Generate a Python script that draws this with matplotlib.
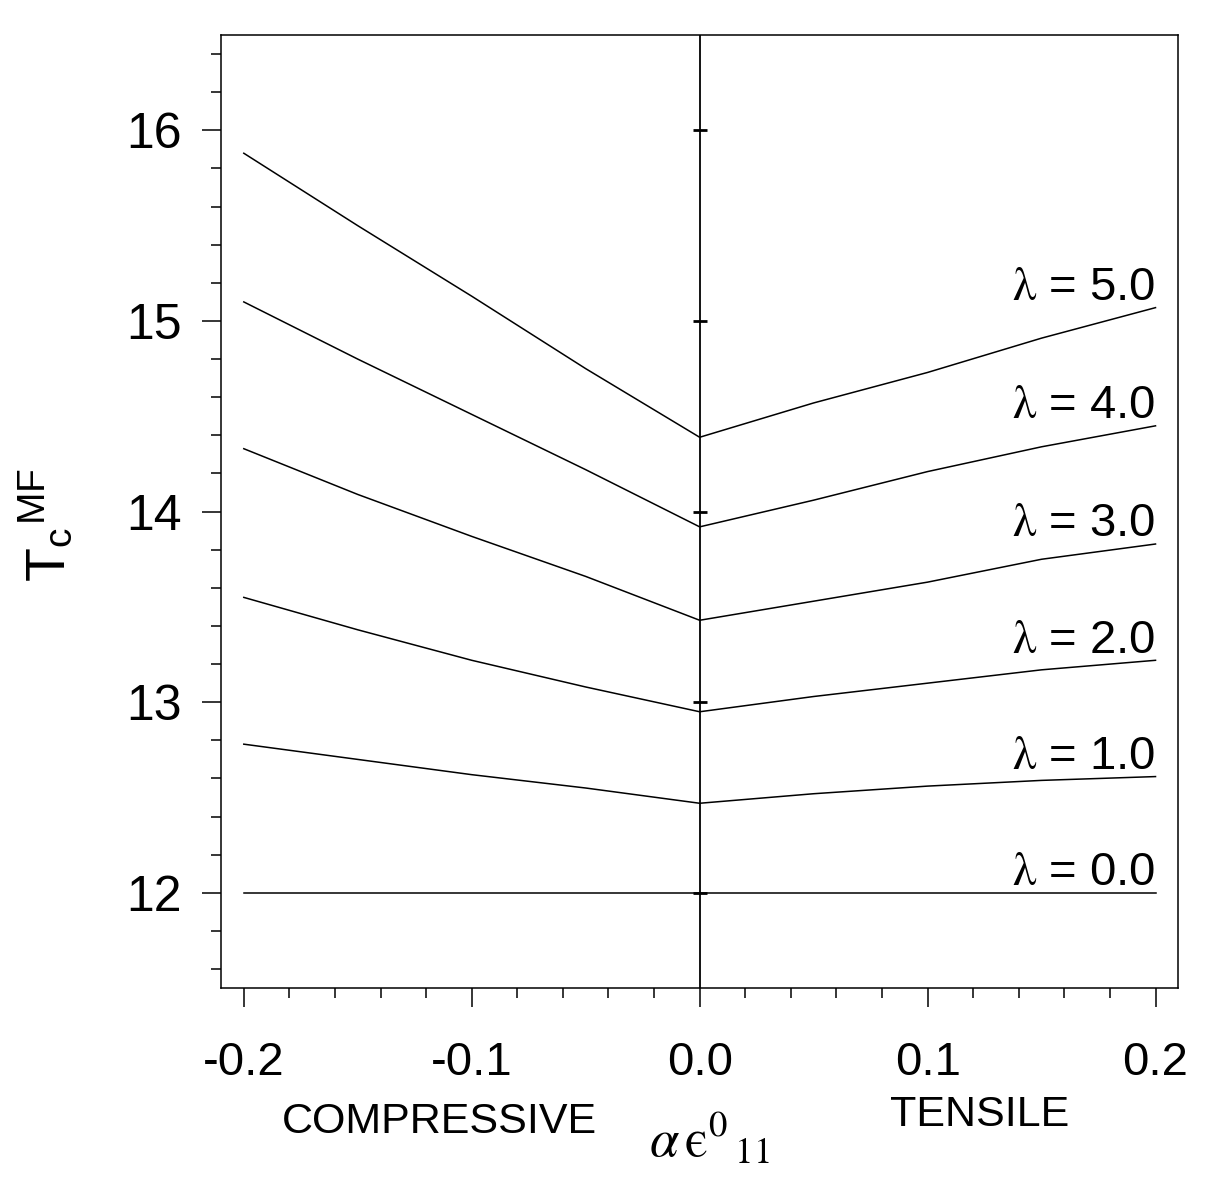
import matplotlib
matplotlib.use('Agg')
import matplotlib.pyplot as plt
from matplotlib.ticker import MultipleLocator

plt.rcParams['font.family'] = 'Liberation Sans'
plt.rcParams['mathtext.fontset'] = 'stix'

# strain values (alpha * eps0_11) where the curves were read
strain = [-0.2, -0.15, -0.1, -0.05, 0.0, 0.05, 0.1, 0.15, 0.2]

# mean-field Tc for each coupling lambda
tc_lam0 = [12.00, 12.00, 12.00, 12.00, 12.00, 12.00, 12.00, 12.00, 12.00]
tc_lam1 = [12.78, 12.70, 12.62, 12.55, 12.47, 12.52, 12.56, 12.59, 12.61]
tc_lam2 = [13.55, 13.38, 13.22, 13.08, 12.95, 13.03, 13.10, 13.17, 13.22]
tc_lam3 = [14.33, 14.09, 13.87, 13.66, 13.43, 13.53, 13.63, 13.75, 13.83]
tc_lam4 = [15.10, 14.80, 14.51, 14.22, 13.92, 14.06, 14.21, 14.34, 14.45]
tc_lam5 = [15.88, 15.50, 15.13, 14.75, 14.39, 14.57, 14.73, 14.91, 15.07]

curves = [tc_lam0, tc_lam1, tc_lam2, tc_lam3, tc_lam4, tc_lam5]
lam_labels = ['0.0', '1.0', '2.0', '3.0', '4.0', '5.0']

# small cross marks on the zero-strain line
cross_y = [12, 13, 14, 15, 16]

fig = plt.figure(figsize=(12.11, 11.92), dpi=100)
ax = fig.add_axes([0.1825, 0.171, 0.7905, 0.7996])

for tc, lab in zip(curves, lam_labels):
    ax.plot(strain, tc, color='black', lw=1.1)
    ax.text(strain[-1], tc[-1] + 0.04, r'$\mathrm{\lambda}$ = ' + lab,
            ha='right', va='baseline', fontsize=34)

ax.axvline(0.0, color='black', lw=1.3)
ax.plot([0.0] * len(cross_y), cross_y, ls='none', marker='_', ms=10,
        mew=2, color='black')

ax.set_xlim(-0.21, 0.21)
ax.set_ylim(11.5, 16.5)
ax.xaxis.set_major_locator(MultipleLocator(0.1))
ax.xaxis.set_minor_locator(MultipleLocator(0.02))
ax.yaxis.set_major_locator(MultipleLocator(1))
ax.yaxis.set_minor_locator(MultipleLocator(0.2))
ax.set_xticks([-0.2, -0.1, 0.0, 0.1, 0.2])
ax.set_xticklabels(['-0.2', '-0.1', '0.0', '0.1', '0.2'])

ax.tick_params(which='both', direction='out', top=False, right=False, width=1.1)
ax.tick_params(which='major', length=14)
ax.tick_params(which='minor', length=7)
ax.tick_params(axis='x', which='major', labelsize=34, pad=24)
ax.tick_params(axis='y', which='major', labelsize=36, pad=14)
for sp in ax.spines.values():
    sp.set_linewidth(1.1)

fig.text(0.04, 0.56, r'T${}_{\mathregular{c}}{}^{\mathregular{MF}}$',
         rotation=90, ha='center', va='center', fontsize=40)
fig.text(0.363, 0.0587, 'COMPRESSIVE', ha='center', va='center', fontsize=31)
fig.text(0.809, 0.0646, 'TENSILE', ha='center', va='center', fontsize=31)
fig.text(0.586, 0.0436, '$\\alpha\\,\\mathrm{\u03f5}^{\\mathrm{0}}{}_{\\,\\mathrm{11}}$',
         ha='center', va='center', fontsize=38)

fig.savefig('out.png', dpi=100)
